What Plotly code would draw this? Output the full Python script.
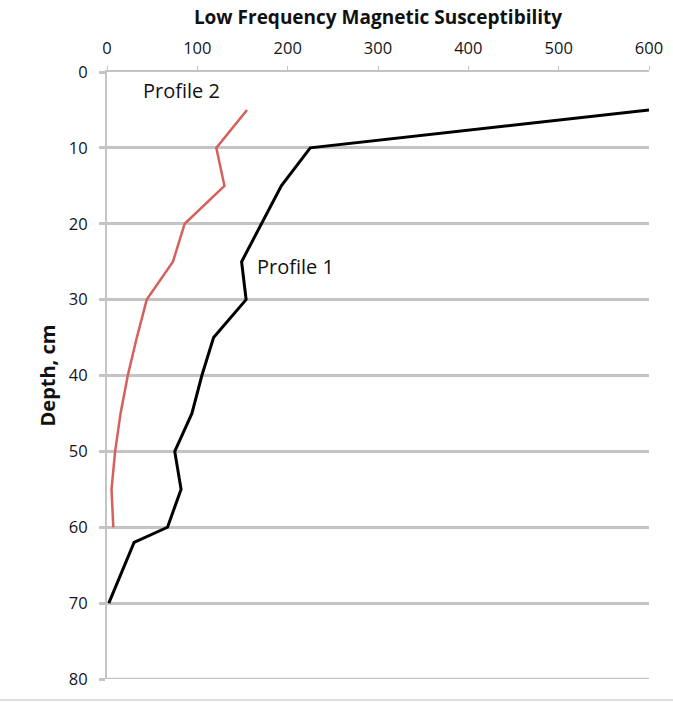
import plotly.graph_objects as go

# Depth (cm) and low-frequency magnetic susceptibility for two soil profiles
depth_p1 = [5, 10, 15, 20, 25, 30, 35, 40, 45, 50, 55, 60, 62, 70]
chi_p1 = [600, 225, 193, 171, 149, 154, 118, 105, 94, 75, 82, 67, 30, 2]

depth_p2 = [5, 10, 15, 20, 25, 30, 35, 40, 45, 50, 55, 60]
chi_p2 = [155, 121, 130, 86, 73, 44, 33, 23, 15, 9, 5, 7]

x_ticks = [0, 100, 200, 300, 400, 500, 600]
y_ticks = [0, 10, 20, 30, 40, 50, 60, 70, 80]

grid = "#c4c4c4"
label_color = "#15151c"
font_family = "Open Sans, Liberation Sans, sans-serif"

fig = go.Figure()
fig.add_trace(go.Scatter(x=chi_p1, y=depth_p1, mode="lines",
                         line=dict(color="#000000", width=3), name="Profile 1"))
fig.add_trace(go.Scatter(x=chi_p2, y=depth_p2, mode="lines",
                         line=dict(color="#d6605a", width=2.5), name="Profile 2"))

fig.add_annotation(x=82.5, y=2.4, text="Profile 2", showarrow=False,
                   font=dict(size=20, color="#111111", family=font_family))
fig.add_annotation(x=209, y=25.6, text="Profile 1", showarrow=False,
                   font=dict(size=20, color="#111111", family=font_family))

fig.update_layout(
    width=673, height=702,
    margin=dict(l=107, r=24, t=72, b=23, autoexpand=False),
    paper_bgcolor="white", plot_bgcolor="white",
    showlegend=False,
    font=dict(family=font_family, size=16.5, color=label_color),
    title=dict(text="<b>Low Frequency Magnetic Susceptibility</b>",
               xref="paper", x=0.5, xanchor="center", y=0.975, yanchor="middle",
               font=dict(size=19, color="#111111", family=font_family)),
    xaxis=dict(side="top", range=[0, 600], tickvals=x_ticks, automargin=False,
               showgrid=False, zeroline=False,
               showline=True, linecolor=grid, linewidth=2,
               ticks="outside", ticklen=4, tickcolor=grid, tickwidth=1,
               ticklabelstandoff=5,
               tickfont=dict(size=16.5, color=label_color)),
    yaxis=dict(range=[80, 0], tickvals=y_ticks, automargin=False,
               showgrid=True, gridcolor=grid, gridwidth=2.5,
               zeroline=False, showline=True, linecolor=grid, linewidth=2,
               ticks="outside", ticklen=6, tickcolor=grid, tickwidth=2.5,
               ticklabelstandoff=8,
               tickfont=dict(size=16.5, color=label_color),
               title=dict(text="<b>Depth, cm</b>", standoff=8,
                          font=dict(size=20, color="#111111", family=font_family))),
)

# gridline along the deepest tick (80 cm), which sits on the plot edge
fig.add_shape(type="line", xref="paper", yref="y", x0=0, x1=1, y0=80, y1=80,
              line=dict(color=grid, width=2.5))

# thin rule along the foot of the figure
fig.add_shape(type="line", xref="paper", yref="paper",
              x0=-107 / 542, x1=1 + 24 / 542, y0=-21 / 607, y1=-21 / 607,
              line=dict(color="#d0d0d0", width=1.5))

fig.write_html("out.html")
